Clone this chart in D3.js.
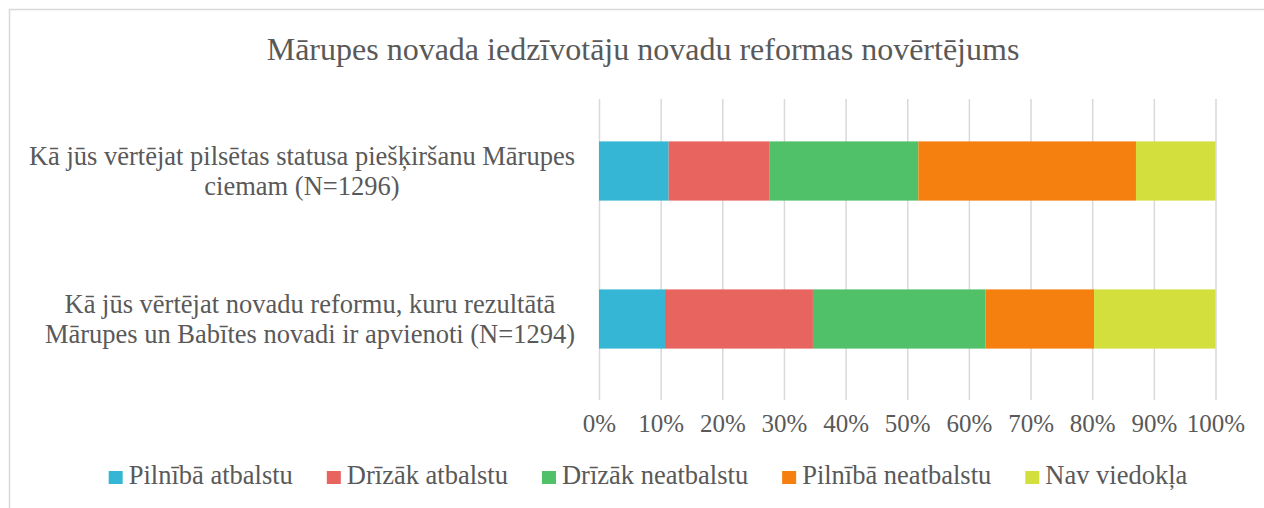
<!DOCTYPE html>
<html>
<head>
<meta charset="utf-8">
<script src="https://cdn.jsdelivr.net/npm/d3@7"></script>
<style>
    body { margin: 0; background: #fff; }
    svg { display: block; font-family: "Liberation Serif", "Times New Roman", serif; }
    text { fill: #595959; }
</style>
</head>
<body>
<svg id="chart"></svg>
<script>
var title = 'Mārupes novada iedzīvotāju novadu reformas novērtējums';

var categories = [
    ['Kā jūs vērtējat pilsētas statusa piešķiršanu Mārupes', 'ciemam (N=1296)'],
    ['Kā jūs vērtējat novadu reformu, kuru rezultātā', 'Mārupes un Babītes novadi ir apvienoti (N=1294)']
];

var seriesNames = ['Pilnībā atbalstu', 'Drīzāk atbalstu', 'Drīzāk neatbalstu', 'Pilnībā neatbalstu', 'Nav viedokļa'];
var seriesColors = ['#35b6d4', '#e8645f', '#50c169', '#f5800f', '#d3df3c'];

// percent per category, in series order
var statusValues = [11.3, 16.3, 24.2, 35.3, 12.9];
var reformValues = [10.7, 24.0, 28.0, 17.6, 19.7];

var tickValues = [0, 10, 20, 30, 40, 50, 60, 70, 80, 90, 100];

var width = 1264, height = 508;
var plot = {left: 599, right: 1215.5, top: 99, bottom: 400};

var rows = [statusValues, reformValues].map(function(vals, i) {
    var row = {key: i};
    seriesNames.forEach(function(s, j) { row[s] = vals[j]; });
    return row;
});

var stacked = d3.stack().keys(seriesNames)(rows);

var svg = d3.select('#chart')
    .attr('width', width)
    .attr('height', height);

// chart frame (right and bottom edges fall outside the picture)
svg.append('rect')
    .attr('x', 9.5).attr('y', 9.5)
    .attr('width', width + 20).attr('height', height + 20)
    .attr('fill', 'none')
    .attr('stroke', '#d9d9d9')
    .attr('stroke-width', 1.5);

var x = d3.scaleLinear().domain([0, 100]).range([plot.left, plot.right]);
var y = d3.scaleBand().domain([0, 1]).range([97, 393]).paddingInner(0.6).paddingOuter(0.3);

svg.append('text')
    .attr('x', 643)
    .attr('y', 60)
    .attr('text-anchor', 'middle')
    .style('font-size', '32px')
    .text(title);

// vertical gridlines
var xAxis = d3.axisBottom(x)
    .tickValues(tickValues)
    .tickSize(-(plot.bottom - plot.top))
    .tickPadding(10)
    .tickFormat(function(d) { return d + '%'; });

var gX = svg.append('g')
    .attr('transform', 'translate(0,' + plot.bottom + ')')
    .call(xAxis);

gX.attr('font-family', null);
gX.select('.domain').remove();
gX.selectAll('.tick line')
    .attr('stroke', '#d9d9d9')
    .attr('stroke-width', 1.5);
gX.selectAll('.tick text')
    .attr('y', 32)
    .attr('dy', null)
    .style('font-size', '25px')
    .attr('fill', '#595959');

// stacked bars
svg.append('g')
    .selectAll('g')
    .data(stacked)
    .join('g')
    .attr('fill', function(d, i) { return seriesColors[i]; })
    .selectAll('rect')
    .data(function(d) { return d; })
    .join('rect')
    .attr('x', function(d) { return x(d[0]); })
    .attr('width', function(d) { return x(d[1]) - x(d[0]); })
    .attr('y', function(d) { return y(d.data.key); })
    .attr('height', y.bandwidth());

// category labels: longest line ends at 575, all lines centred on it
var lineH = 30;
categories.forEach(function(lines, i) {
    var g = svg.append('g');
    var cy = y(i) + y.bandwidth() / 2;
    var texts = g.selectAll('text')
        .data(lines)
        .join('text')
        .attr('text-anchor', 'middle')
        .style('font-size', '26.5px')
        .attr('y', function(d, k) { return cy + (k - (lines.length - 1) / 2) * lineH; })
        .attr('dy', '0.35em')
        .text(function(d) { return d; });
    var maxW = d3.max(texts.nodes(), function(n) { return n.getComputedTextLength(); });
    texts.attr('x', 575 - maxW / 2);
});

// legend
var legend = svg.append('g');
var items = legend.selectAll('g')
    .data(seriesNames)
    .join('g');

items.append('rect')
    .attr('y', -13)
    .attr('width', 14)
    .attr('height', 13)
    .attr('fill', function(d, i) { return seriesColors[i]; });

items.append('text')
    .attr('x', 20)
    .style('font-size', '26.5px')
    .text(function(d) { return d; });

var pos = 0;
items.each(function() {
    var w = d3.select(this).select('text').node().getComputedTextLength();
    d3.select(this).attr('transform', 'translate(' + pos + ',0)');
    pos += 20 + w + 34;
});
pos -= 34;

legend.attr('transform', 'translate(' + (648 - pos / 2) + ',484)');
</script>
</body>
</html>
